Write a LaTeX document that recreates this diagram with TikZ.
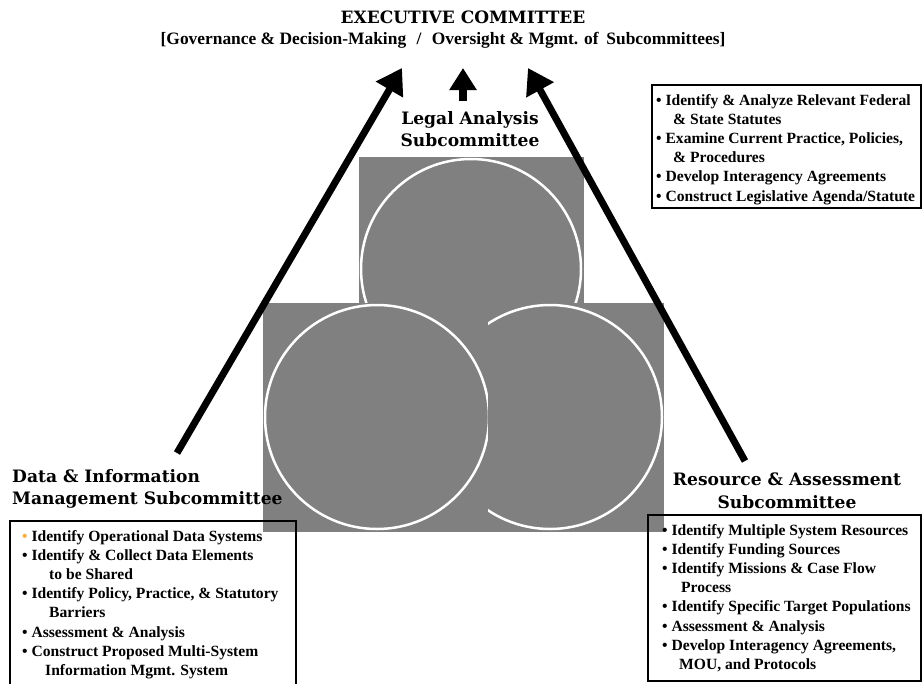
\documentclass[tikz,border=0pt]{standalone}
\usepackage{fontspec}
\setmainfont{Liberation Serif}
\newfontfamily\headfont{DejaVu Serif}
\usetikzlibrary{arrows.meta}
\definecolor{squaregray}{HTML}{808080}
\definecolor{bulletorange}{HTML}{F5B041}
\begin{document}
\begin{tikzpicture}[x=1pt,y=-1pt,
  headlbl/.style={font=\headfont\bfseries\fontsize{17.1}{22.5}\selectfont, align=center, inner sep=0pt},
  bullist/.style={font=\bfseries\fontsize{15.6}{19.2}\selectfont, align=left, inner sep=0pt, anchor=north west},
  framebox/.style={draw=black, line width=1.4pt},
  bigarrow/.style={line width=7pt, -{Triangle[length=25pt,width=30pt]}},
  smallarrow/.style={line width=8pt, -{Triangle[length=22pt,width=26pt]}},
  graysq/.style={fill=squaregray, draw=none},
  ring/.style={draw=white, line width=2.5pt}
]
\useasboundingbox (0,0) rectangle (923,683);
\fill[white] (0,0) rectangle (923,683);

% gray squares with rings
\fill[graysq] (359,157) rectangle (584,380);
\draw[ring] (471,269) circle[radius=110pt];
\fill[graysq] (263,303) rectangle (492,532);
\draw[ring] (377,417) circle[radius=112pt];
\begin{scope}
  \clip (488,303) rectangle (664,532);
  \fill[graysq] (488,303) rectangle (664,532);
  \draw[ring] (550,417) circle[radius=112pt];
\end{scope}

% titles
\node[font=\headfont\bfseries\fontsize{17}{20}\selectfont, inner sep=0pt] (exec) at (463,17) {EXECUTIVE COMMITTEE};
\node[font=\bfseries\fontsize{17.4}{19}\selectfont, inner sep=0pt] (execsub) at (443,40)
  {[Governance \& Decision-Making\hspace{0.6em}/\hspace{0.6em}Oversight \& Mgmt. of\hspace{0.45em}Subcommittees]};

\node[headlbl] (legal) at (470,129) {Legal Analysis\\Subcommittee};
\node[headlbl, align=left, anchor=west] (data) at (12,489) {Data \& Information\\Management Subcommittee};
\node[headlbl] (resource) at (787,491) {Resource \& Assessment\\Subcommittee};

% arrows
\coordinate (tipL) at (402,68);
\coordinate (tipM) at (463,68);
\coordinate (tipR) at (528,68);
\coordinate (tailL) at (177,453);
\coordinate (tailM) at (463,101);
\coordinate (tailR) at (745,461);
\draw[bigarrow] (tailL) -- (tipL);
\draw[smallarrow] (tailM) -- (tipM);
\draw[bigarrow] (tailR) -- (tipR);

% boxes
\draw[framebox] (652,85) rectangle (921,208);
\node[bullist] (legallist) at (656,94) {%
• Identify \& Analyze Relevant Federal\\
\hspace*{17pt}\& State Statutes\\
• Examine Current Practice, Policies,\\
\hspace*{17pt}\& Procedures\\
• Develop Interagency Agreements\\
• Construct Legislative Agenda/Statute};

\draw[framebox] (10,521) rectangle (296,690);
\node[bullist] (datalist) at (22,530) {%
{\color{bulletorange}•} Identify Operational Data Systems\\
• Identify \& Collect Data Elements\\
\hspace*{27pt}to be Shared\\
• Identify Policy, Practice, \& Statutory\\
\hspace*{27pt}Barriers\\
• Assessment \& Analysis\\
• Construct Proposed Multi-System\\
\hspace*{23pt}Information Mgmt. System};

\draw[framebox] (648,515) rectangle (921,681);
\node[bullist] (resourcelist) at (662,524) {%
• Identify Multiple System Resources\\
• Identify Funding Sources\\
• Identify Missions \& Case Flow\\
\hspace*{19pt}Process\\
• Identify Specific Target Populations\\
• Assessment \& Analysis\\
• Develop Interagency Agreements,\\
\hspace*{17pt}MOU, and Protocols};
\end{tikzpicture}
\end{document}
